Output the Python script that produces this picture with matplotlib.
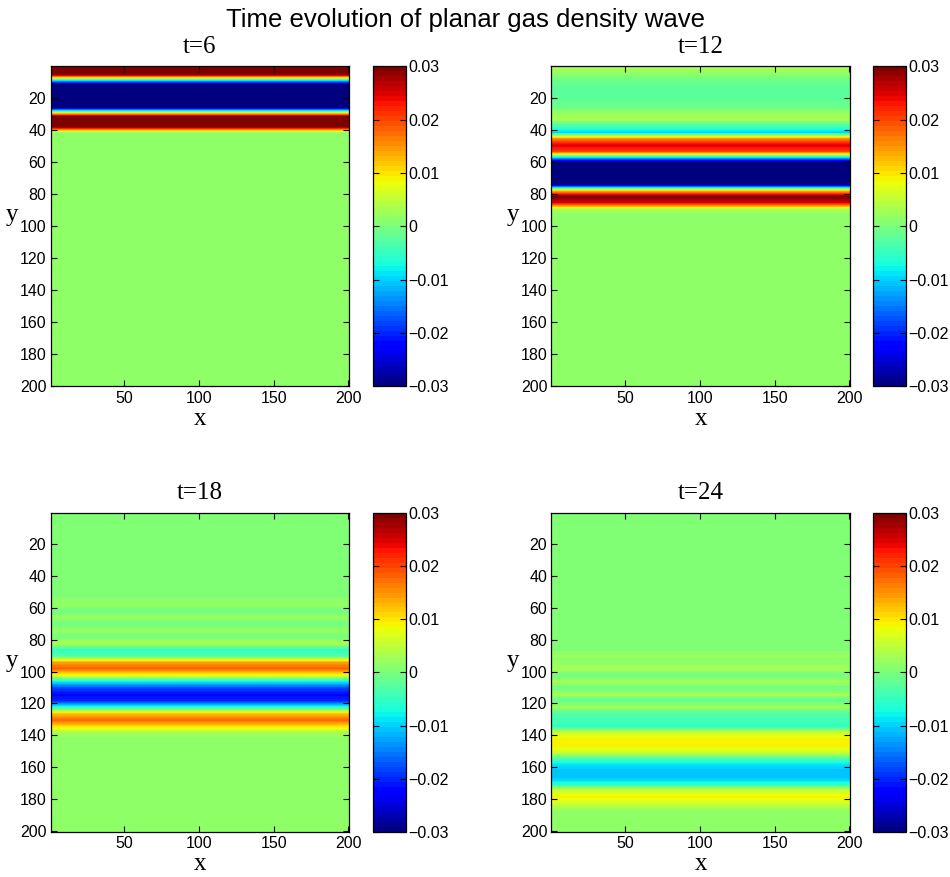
#!/usr/bin/env python3

"""
Snapshots of a planar gas density perturbation on a 200x200 grid.
"""

import matplotlib
matplotlib.use("Agg")
import matplotlib.pyplot as plt
import numpy as np


# density perturbation along y, one value per 4 grid rows (rows 1..200).
# the wave is planar, so every x column carries the same profile.
times = [6, 12, 18, 24]

rho_t6 = [0.045, 0.030, -0.012, -0.045, -0.050, -0.050, -0.035, 0.010, 0.050, 0.035,
          0.002, 0.0012, 0.0012, 0.0012, 0.0012, 0.0012, 0.0012, 0.0012, 0.0012, 0.0012,
          0.0012, 0.0012, 0.0012, 0.0012, 0.0012, 0.0012, 0.0012, 0.0012, 0.0012, 0.0012,
          0.0012, 0.0012, 0.0012, 0.0012, 0.0012, 0.0012, 0.0012, 0.0012, 0.0012, 0.0012,
          0.0012, 0.0012, 0.0012, 0.0012, 0.0012, 0.0012, 0.0012, 0.0012, 0.0012, 0.0012]

rho_t12 = [0.003, 0.001, -0.0015, -0.002, -0.002, -0.002, -0.001, 0.002, 0.003, -0.004,
           -0.010, 0.016, 0.025, 0.020, -0.012, -0.040, -0.050, -0.050, -0.035, 0.010,
           0.031, 0.024, 0.003, 0.0012, 0.0012, 0.0012, 0.0012, 0.0012, 0.0012, 0.0012,
           0.0012, 0.0012, 0.0012, 0.0012, 0.0012, 0.0012, 0.0012, 0.0012, 0.0012, 0.0012,
           0.0012, 0.0012, 0.0012, 0.0012, 0.0012, 0.0012, 0.0012, 0.0012, 0.0012, 0.0012]

rho_t18 = [0.0005, 0.0005, 0.0005, 0.0005, 0.0005, 0.0005, 0.0005, 0.0005, 0.0005, 0.0005,
           0.0005, 0.0005, 0.0005, 0.001, 0.002, -0.001, 0.002, -0.001, 0.002, -0.001,
           0.004, -0.005, -0.003, 0.014, 0.018, 0.008, -0.008, -0.018, -0.022, -0.020,
           -0.006, 0.012, 0.018, 0.010, 0.003, 0.0012, 0.0012, 0.0012, 0.0012, 0.0012,
           0.0012, 0.0012, 0.0012, 0.0012, 0.0012, 0.0012, 0.0012, 0.0012, 0.0012, 0.0012]

rho_t24 = [0.0005, 0.0005, 0.0005, 0.0005, 0.0005, 0.0005, 0.0005, 0.0005, 0.0005, 0.0005,
           0.0005, 0.0005, 0.0005, 0.0005, 0.0005, 0.0005, 0.0005, 0.0005, 0.0005, 0.0005,
           0.0005, 0.0005, 0.002, 0.001, 0.003, -0.001, 0.003, -0.001, 0.003, -0.002,
           0.003, -0.003, -0.004, -0.005, 0.006, 0.009, 0.009, 0.006, -0.003, -0.009,
           -0.011, -0.011, -0.006, 0.006, 0.009, 0.006, 0.002, 0.0012, 0.0012, 0.0012]

profiles = [rho_t6, rho_t12, rho_t18, rho_t24]

x_ticks = [50, 100, 150, 200]
y_ticks = [20, 40, 60, 80, 100, 120, 140, 160, 180, 200]
cbar_ticks = [-0.03, -0.02, -0.01, 0, 0.01, 0.02, 0.03]
cbar_labels = ["\u22120.03", "\u22120.02", "\u22120.01", "0", "0.01", "0.02", "0.03"]


def main():

    plt.rcParams["font.family"] = ["Liberation Sans", "DejaVu Sans"]
    plt.rcParams["xtick.direction"] = "in"
    plt.rcParams["ytick.direction"] = "in"

    cmap = matplotlib.colormaps["jet"].resampled(64)
    serif = "Liberation Serif"

    fig = plt.figure(figsize=(9.5, 8.77), dpi=100)

    # [left, bottom, width, height] in figure fractions
    ax_rects = [[0.0532, 0.5593, 0.3142, 0.3649],
                [0.5805, 0.5593, 0.3142, 0.3649],
                [0.0532, 0.0513, 0.3142, 0.3641],
                [0.5805, 0.0513, 0.3142, 0.3641]]
    cb_lefts = [0.3930, 0.9193, 0.3930, 0.9193]

    for t, prof, rect, cb_left in zip(times, profiles, ax_rects, cb_lefts):
        ax = fig.add_axes(rect)
        field = np.array(prof)[:, None]
        im = ax.imshow(field, cmap=cmap, vmin=-0.03, vmax=0.03,
                       extent=[0.5, 200.5, 200.5, 0.5], aspect="auto",
                       interpolation="bilinear", interpolation_stage="data")
        ax.set_xlim(0.5, 200.5)
        ax.set_ylim(200.5, 0.5)
        ax.set_xticks(x_ticks)
        ax.set_yticks(y_ticks)
        ax.tick_params(top=True, right=True, length=4, width=0.8,
                       labelsize=11.5, pad=3)
        for sp in ax.spines.values():
            sp.set_linewidth(0.9)

        ax.set_title(f"t={t}", family=serif, fontsize=18, pad=10)
        ax.set_xlabel("x", family=serif, fontsize=18, labelpad=1.5)
        ax.set_ylabel("y", family=serif, fontsize=18, rotation=0,
                      va="center", ha="center")
        ax.yaxis.set_label_coords(-0.128, 0.535)

        cax = fig.add_axes([cb_left, rect[1], 0.034, rect[3]])
        cb = fig.colorbar(im, cax=cax)
        cb.set_ticks(cbar_ticks)
        cb.set_ticklabels(cbar_labels)
        cb.ax.tick_params(left=True, right=True, direction="in", length=4,
                          width=0.8, labelsize=11.5, pad=2)
        cb.outline.set_linewidth(0.9)

    fig.text(0.49, 0.969, "Time evolution of planar gas density wave",
             ha="center", va="baseline", fontsize=18.5)

    plt.savefig("out.png", dpi=100)


if __name__ == "__main__":
    main()
